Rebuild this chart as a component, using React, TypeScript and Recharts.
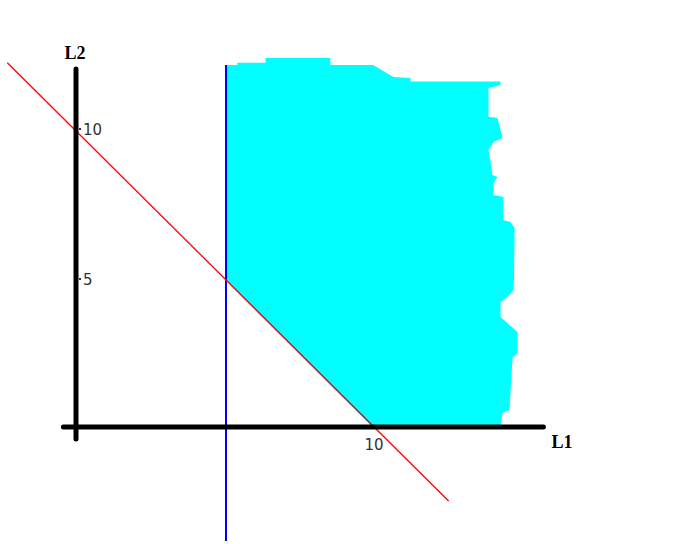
import React from "react";
import {
  ComposedChart,
  Area,
  XAxis,
  YAxis,
  ReferenceLine,
  ReferenceDot,
} from "recharts";

// Feasible region, scanned row by row from the top:
// L2 level, then its left and right edge along L1.
const levels = [
  12.37, 12.21, 12.21, 12.13, 12.13, 11.73, 11.7, 11.58, 11.58, 11.47, 11.37,
  10.41, 10.37, 9.7, 9.57, 9.3, 8.9, 8.47, 8.4, 8.2, 7.8, 7.73, 6.97, 6.9, 6.7,
  5.0, 4.63, 4.4, 4.23, 3.73, 3.53, 3.23, 2.53, 2.37, 0.63, 0.53, 0.13, 0,
];
const leftEdge = [
  6.32, 6.32, 5.38, 5.38, 5.0, 5.0, 5.0, 5.0, 5.0, 5.0, 5.0,
  5.0, 5.0, 5.0, 5.0, 5.0, 5.0, 5.0, 5.0, 5.0, 5.0, 5.0, 5.0, 5.0, 5.0,
  5.0, 5.31, 5.54, 5.71, 6.21, 6.41, 6.71, 7.41, 7.57, 9.31, 9.41, 9.81, 10.0,
];
const rightEdge = [
  8.48, 8.48, 8.48, 8.48, 9.9, 10.58, 11.15, 11.15, 14.15, 14.15, 13.75,
  13.75, 14.05, 14.22, 13.92, 13.75, 13.82, 13.88, 14.05, 13.92, 13.92, 14.25,
  14.25, 14.48, 14.62, 14.6, 14.58, 14.38, 14.15, 14.15, 14.38, 14.72, 14.72,
  14.55, 14.45, 14.22, 14.15, 14.15,
];

// L1 + L2 = 10 and L1 = 5
const budgetLine = [
  { l1: -2.29, l2: 12.21 },
  { l1: 12.42, l2: -2.4 },
];
const minL1Line = [
  { l1: 5, l2: 12.13 },
  { l1: 5, l2: -3.73 },
];

// hand-drawn axes, running a little past the origin
const l1Axis = [
  { l1: -0.42, l2: 0.07 },
  { l1: 15.58, l2: 0.07 },
];
const l2Axis = [
  { l1: 0, l2: 12.0 },
  { l1: 0, l2: -0.33 },
];

const l1Ticks = [10];
const l2Ticks = [5, 10];

const region = levels.map((l2, i) => ({
  l2,
  span: [leftEdge[i], rightEdge[i]],
}));

const seg = (pts: { l1: number; l2: number }[]) =>
  pts.map((p) => ({ x: p.l1, y: p.l2 }));

const tickFont = { fontFamily: "DejaVu Sans", fontSize: 15, fill: "#333" };
const titleFont = {
  fontFamily: "Liberation Serif",
  fontSize: 18,
  fontWeight: 700,
  fill: "#000",
};

export default function App() {
  return (
    <div
      style={{
        position: "absolute",
        left: 0,
        top: 0,
        width: 683,
        height: 544,
        background: "#fff",
      }}
    >
      <ComposedChart
        width={683}
        height={544}
        layout="vertical"
        data={region}
        margin={{ top: 48, right: 97, bottom: 1, left: 1 }}
      >
        <XAxis type="number" domain={[-2.5, 17]} allowDataOverflow hide />
        <YAxis
          type="number"
          dataKey="l2"
          domain={[-3.8, 12.7]}
          allowDataOverflow
          reversed
          hide
        />
        <Area
          type="linear"
          dataKey="span"
          stroke="none"
          fill="#00FFFF"
          fillOpacity={1}
          isAnimationActive={false}
        />
        <ReferenceLine segment={seg(minL1Line)} stroke="#0000FF" strokeWidth={2} />
        <ReferenceLine segment={seg(budgetLine)} stroke="#FF0000" strokeWidth={1.3} />
        <ReferenceLine
          segment={seg(l1Axis)}
          stroke="#000"
          strokeWidth={5}
          strokeLinecap="round"
        />
        <ReferenceLine
          segment={seg(l2Axis)}
          stroke="#000"
          strokeWidth={5}
          strokeLinecap="round"
        />
        {l1Ticks.map((v) => (
          <ReferenceDot
            key={`x${v}`}
            x={v}
            y={0}
            shape={(p: any) => (
              <text x={p.cx - 2} y={p.cy + 21} textAnchor="middle" {...tickFont}>
                {v}
              </text>
            )}
          />
        ))}
        {l2Ticks.map((v) => (
          <ReferenceDot
            key={`y${v}`}
            x={0}
            y={v}
            shape={(p: any) => (
              <g>
                <rect x={p.cx + 3} y={p.cy - 1} width={2} height={2} fill="#333" />
                <text x={p.cx + 7} y={p.cy + 6} textAnchor="start" {...tickFont}>
                  {v}
                </text>
              </g>
            )}
          />
        ))}
        <ReferenceDot
          x={16.2}
          y={-0.42}
          shape={(p: any) => (
            <text x={p.cx} y={p.cy + 6} textAnchor="middle" {...titleFont}>
              L1
            </text>
          )}
        />
        <ReferenceDot
          x={-0.03}
          y={12.54}
          shape={(p: any) => (
            <text x={p.cx} y={p.cy + 6} textAnchor="middle" {...titleFont}>
              L2
            </text>
          )}
        />
      </ComposedChart>
    </div>
  );
}
